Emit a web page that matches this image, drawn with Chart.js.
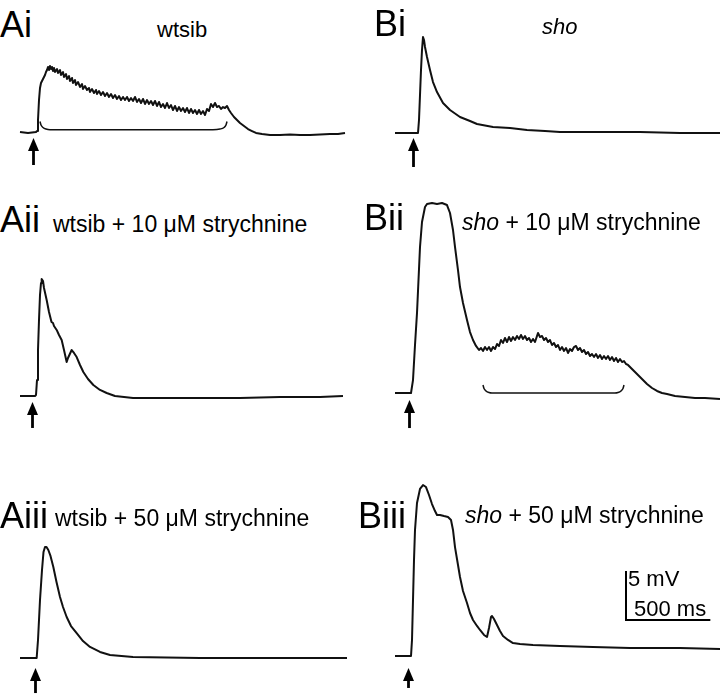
<!DOCTYPE html>
<html>
<head>
<meta charset="utf-8">
<script src="https://cdn.jsdelivr.net/npm/chart.js@4/dist/chart.umd.min.js"></script>
<style>
  html, body { margin:0; padding:0; background:#fff; }
  #page { position:relative; width:720px; height:698px; overflow:hidden; background:#fff; }
  canvas { position:absolute; }
  .lbl { position:absolute; white-space:nowrap; color:#000; font-family:"Liberation Sans", Arial, sans-serif; z-index:2; }
</style>
</head>
<body>
<div id="page"></div>
<script>
// ---------------- DATA (time in ms, membrane potential in mV re. baseline) ----------------
const traceAi = [[0,0],[48,-0.10],[96,0],[102,0.10],[108,1.25],[114,3.33],[120,4.58],[126,5.10],[138,5.52],[150,5.94],[156,6.25],[162,6.46],[168,6.77],[174,6.46],[180,6.88],[186,6.56],[192,6.77],[198,6.35],[204,6.67],[210,6.25],[222,6.56],[228,6.15],[240,6.46],[246,5.94],[258,6.25],[264,5.73],[276,6.04],[282,5.52],[294,5.83],[300,5.31],[312,5.63],[318,5.10],[330,5.42],[336,4.90],[348,5.21],[360,4.69],[372,5.00],[378,4.48],[390,4.79],[402,4.38],[414,4.58],[420,4.17],[432,4.48],[444,4.06],[456,4.38],[462,3.96],[474,4.27],[486,3.85],[498,4.17],[510,3.75],[522,4.06],[534,3.65],[546,3.96],[558,3.54],[570,3.85],[582,3.44],[594,3.75],[606,3.33],[618,3.65],[630,3.33],[642,3.65],[654,3.23],[666,3.54],[678,3.23],[690,3.65],[702,3.13],[714,3.44],[726,3.02],[738,3.44],[750,2.92],[762,3.33],[774,2.92],[786,3.23],[798,2.81],[810,3.23],[822,2.71],[834,3.13],[846,2.60],[858,2.92],[870,2.50],[882,3.02],[894,2.50],[906,2.81],[918,2.29],[930,2.71],[942,2.19],[954,2.60],[966,2.19],[978,2.50],[990,2.08],[1002,2.50],[1014,1.98],[1026,2.40],[1038,1.98],[1050,2.29],[1062,1.88],[1074,2.29],[1086,1.88],[1098,2.19],[1110,1.77],[1122,2.40],[1134,2.19],[1146,2.92],[1158,2.60],[1170,3.02],[1182,2.60],[1194,2.71],[1206,2.40],[1218,2.60],[1230,2.50],[1242,2.71],[1254,2.29],[1266,1.98],[1284,1.56],[1302,1.25],[1320,0.94],[1344,0.63],[1368,0.31],[1392,0.10],[1416,-0.10],[1452,-0.21],[1500,-0.31],[1560,-0.31],[1620,-0.25],[1680,-0.31],[1740,-0.31],[1800,-0.25],[1860,-0.21],[1908,-0.21],[1950,-0.10]];

const traceBi = [[0,0],[138,0],[144,1.35],[150,3.96],[156,6.56],[162,8.65],[168,10.0],[174,9.69],[180,8.96],[192,7.92],[210,6.56],[228,5.31],[252,4.27],[288,3.13],[330,2.40],[390,1.67],[450,1.25],[492,0.94],[588,0.63],[690,0.52],[792,0.31],[900,0.21],[990,0.10],[1230,0.10],[1470,0.10],[1710,0],[1950,0]];

const traceAii = [[0,0],[90,0],[96,0.10],[102,1.67],[108,4.79],[114,7.92],[120,10.52],[126,11.77],[130,12.19],[138,11.98],[144,11.25],[160,10.0],[174,8.75],[189,7.71],[198,7.60],[204,7.29],[220,6.88],[234,6.35],[250,5.83],[264,4.79],[280,3.54],[288,3.96],[310,4.79],[324,4.48],[340,4.06],[360,3.23],[380,2.50],[408,1.77],[440,1.15],[480,0.63],[520,0.31],[570,0],[678,-0.21],[840,-0.21],[1080,-0.21],[1320,-0.21],[1560,-0.10],[1800,-0.10],[1938,0]];

const traceBii = [[0,0],[96,0],[108,1.35],[120,5.0],[132,8.33],[150,15.21],[162,17.81],[180,19.38],[192,19.69],[222,19.79],[252,19.69],[282,19.79],[312,19.58],[330,18.75],[348,16.98],[360,15.21],[378,12.81],[390,11.04],[408,9.38],[432,7.60],[450,6.35],[468,5.52],[486,4.90],[504,4.48],[516,4.69],[528,4.38],[540,4.79],[552,4.48],[564,4.79],[576,4.38],[588,4.79],[600,4.58],[612,5.10],[624,4.90],[636,5.52],[648,5.21],[660,5.73],[672,5.31],[684,5.83],[696,5.42],[708,5.83],[720,5.52],[732,5.94],[744,5.63],[756,6.04],[768,5.63],[780,5.94],[792,5.52],[804,5.73],[816,5.31],[828,5.63],[840,5.31],[852,5.94],[858,6.25],[870,5.83],[882,5.94],[894,5.52],[906,5.73],[918,5.31],[930,5.52],[942,5.00],[954,5.21],[966,4.79],[978,5.00],[990,4.48],[1002,4.79],[1014,4.38],[1026,4.69],[1038,4.17],[1050,4.58],[1062,4.38],[1074,4.79],[1086,4.90],[1098,4.48],[1110,4.69],[1122,4.27],[1134,4.48],[1146,4.06],[1158,4.27],[1170,3.85],[1182,4.06],[1194,3.75],[1206,4.06],[1218,3.65],[1230,3.96],[1242,3.54],[1254,3.85],[1266,3.54],[1278,3.85],[1290,3.44],[1302,3.75],[1314,3.33],[1326,3.65],[1338,3.23],[1350,3.54],[1362,3.23],[1374,3.33],[1386,3.02],[1398,2.92],[1416,2.60],[1434,2.29],[1458,1.88],[1482,1.46],[1512,0.94],[1542,0.52],[1572,0.21],[1602,0],[1632,-0.10],[1680,-0.31],[1740,-0.42],[1800,-0.52],[1860,-0.52],[1950,-0.63]];

const traceAiii = [[0,0],[100,0],[108,1.88],[120,6.04],[132,9.17],[141,11.04],[150,11.56],[159,11.56],[170,11.25],[183,10.63],[200,9.48],[219,7.92],[240,6.35],[258,5.31],[280,4.27],[306,3.33],[340,2.60],[378,1.77],[420,1.15],[480,0.63],[540,0.31],[678,0.10],[1080,0],[1560,0],[1962,0]];

const traceBiii = [[0,0],[96,0],[102,1.67],[108,5.83],[114,10.0],[120,13.13],[132,15.94],[150,17.40],[168,17.81],[186,17.60],[204,16.77],[222,15.83],[240,15.10],[252,14.69],[270,14.69],[294,14.58],[318,14.48],[336,14.17],[348,13.13],[360,11.35],[378,9.48],[390,8.23],[408,6.77],[432,5.52],[450,4.48],[468,3.75],[492,3.13],[510,2.71],[534,2.19],[552,1.98],[564,2.92],[576,4.06],[582,4.17],[594,3.85],[612,3.23],[630,2.60],[648,2.08],[678,1.67],[708,1.35],[750,1.25],[828,1.15],[990,1.04],[1188,0.94],[1410,0.83],[1710,0.83],[1950,0.73]];

// brackets marking the oscillatory period (ms, mV)
const bracketAi  = [[120,1.09],[126,0.73],[138,0.47],[156,0.31],[180,0.24],[1158,0.24],[1200,0.31],[1224,0.47],[1236,0.73],[1242,1.09]];
const bracketBii = [[528,0.83],[534,0.47],[546,0.21],[564,0.05],[582,0],[1320,0],[1338,0.05],[1356,0.21],[1368,0.47],[1374,0.83]];

// stimulus arrows: [time ms, tip mV, tail mV]
const arrowAi   = [78, -0.63, -3.44];
const arrowBi   = [108, -0.52, -3.54];
const arrowAii  = [72, -0.63, -3.33];
const arrowBii  = [86, -0.73, -3.65];
const arrowAiii = [90, -1.04, -3.65];
const arrowBiii = [78, -1.25, -3.33];

// scale bar (drawn in Biii)
const scaleBarMs = 500;
const scaleBarMv = 5;
const scaleBarCorner = [1386, 3.75];
const scaleBarLabels = ['5 mV', '500 ms'];

// panel texts
const panelLetters = ['Ai', 'Bi', 'Aii', 'Bii', 'Aiii', 'Biii'];
const conditionLabels = ['wtsib', '<i>sho</i>', 'wtsib + 10 \u03BCM strychnine', '<i>sho</i> + 10 \u03BCM strychnine', 'wtsib + 50 \u03BCM strychnine', '<i>sho</i> + 50 \u03BCM strychnine'];

// ---------------- LAYOUT ----------------
const MS_PER_PX = 6;     // 500 ms ~ 83 px
const PX_PER_MV = 9.6;   // 5 mV = 48 px
const page = document.getElementById('page');

const panels = [
  {trace: traceAi,   bracket: bracketAi,  arrow: arrowAi,   box:[10,50,345,125],  origin:[20,132]},
  {trace: traceBi,   bracket: null,       arrow: arrowBi,   box:[385,25,335,150], origin:[395,133]},
  {trace: traceAii,  bracket: null,       arrow: arrowAii,  box:[10,260,345,175], origin:[20,396]},
  {trace: traceBii,  bracket: bracketBii, arrow: arrowBii,  box:[385,190,335,245],origin:[395,393]},
  {trace: traceAiii, bracket: null,       arrow: arrowAiii, box:[10,530,345,168], origin:[20,658]},
  {trace: traceBiii, bracket: null,       arrow: arrowBiii, box:[385,470,335,228],origin:[395,656], scalebar:true}
];

// [x, baseline, size]
const letterPos = [[0,37,36],[374,36,36],[0,232,36],[364,230,36],[0,528,36],[358,528,36]];
const condPos = [[157,38,22],[542,35,22],[53,232,23],[462,230,23],[55,526,23],[465,523,23]];
const scaleLabelPos = [[628,587,22],[634,617,22]];

function addLabel(html, x, base, size) {
  const d = document.createElement('div');
  d.className = 'lbl';
  d.innerHTML = html;
  d.style.fontSize = size + 'px';
  d.style.lineHeight = size + 'px';
  d.style.left = x + 'px';
  d.style.top = (base - 0.8465 * size) + 'px';
  page.appendChild(d);
}

function arrowPlugin(a) {
  return {
    id: 'stimArrow',
    afterDatasetsDraw(chart) {
      const {ctx, scales:{x, y}} = chart;
      const px = Math.round(x.getPixelForValue(a[0])) + 0.5;
      const tip = y.getPixelForValue(a[1]);
      const tail = y.getPixelForValue(a[2]);
      ctx.save();
      ctx.fillStyle = '#000'; ctx.strokeStyle = '#000';
      ctx.lineWidth = 2.8;
      ctx.beginPath(); ctx.moveTo(px, tail); ctx.lineTo(px, tip + 8); ctx.stroke();
      ctx.beginPath(); ctx.moveTo(px, tip); ctx.lineTo(px - 5.5, tip + 13); ctx.lineTo(px + 5.5, tip + 13); ctx.closePath(); ctx.fill();
      ctx.restore();
    }
  };
}

const toXY = arr => arr.map(p => ({x: p[0], y: p[1]}));

panels.forEach(p => {
  const [left, top, w, h] = p.box;
  const [x0, base] = p.origin;
  const cv = document.createElement('canvas');
  cv.width = w; cv.height = h;
  cv.style.left = left + 'px'; cv.style.top = top + 'px';
  cv.style.width = w + 'px'; cv.style.height = h + 'px';
  page.appendChild(cv);

  const datasets = [{
    data: toXY(p.trace), borderColor: '#111', borderWidth: 2, pointRadius: 0,
    tension: 0, fill: false, borderJoinStyle: 'round', clip: false
  }];
  if (p.bracket) {
    datasets.push({
      data: toXY(p.bracket), borderColor: '#111', borderWidth: 1.5, pointRadius: 0,
      cubicInterpolationMode: 'monotone', fill: false, clip: false
    });
  }
  if (p.scalebar) {
    const [cx, cy] = scaleBarCorner;
    datasets.push({
      data: [{x: cx, y: cy + scaleBarMv}, {x: cx, y: cy}, {x: cx + scaleBarMs, y: cy}],
      borderColor: '#000', borderWidth: 2, pointRadius: 0, tension: 0, fill: false,
      borderJoinStyle: 'miter', borderCapStyle: 'square', clip: false
    });
  }

  new Chart(cv, {
    type: 'line',
    data: { datasets },
    options: {
      responsive: false, animation: false, events: [],
      layout: { padding: 0 },
      plugins: { legend: { display: false }, tooltip: { enabled: false } },
      scales: {
        x: { type: 'linear', display: false,
             min: (left - x0) * MS_PER_PX, max: (left + w - x0) * MS_PER_PX },
        y: { type: 'linear', display: false,
             min: (base - (top + h)) / PX_PER_MV, max: (base - top) / PX_PER_MV }
      }
    },
    plugins: [arrowPlugin(p.arrow)]
  });
});

panelLetters.forEach((t, i) => addLabel(t, ...letterPos[i]));
conditionLabels.forEach((t, i) => addLabel(t, ...condPos[i]));
scaleBarLabels.forEach((t, i) => addLabel(t, ...scaleLabelPos[i]));
</script>
</body>
</html>
